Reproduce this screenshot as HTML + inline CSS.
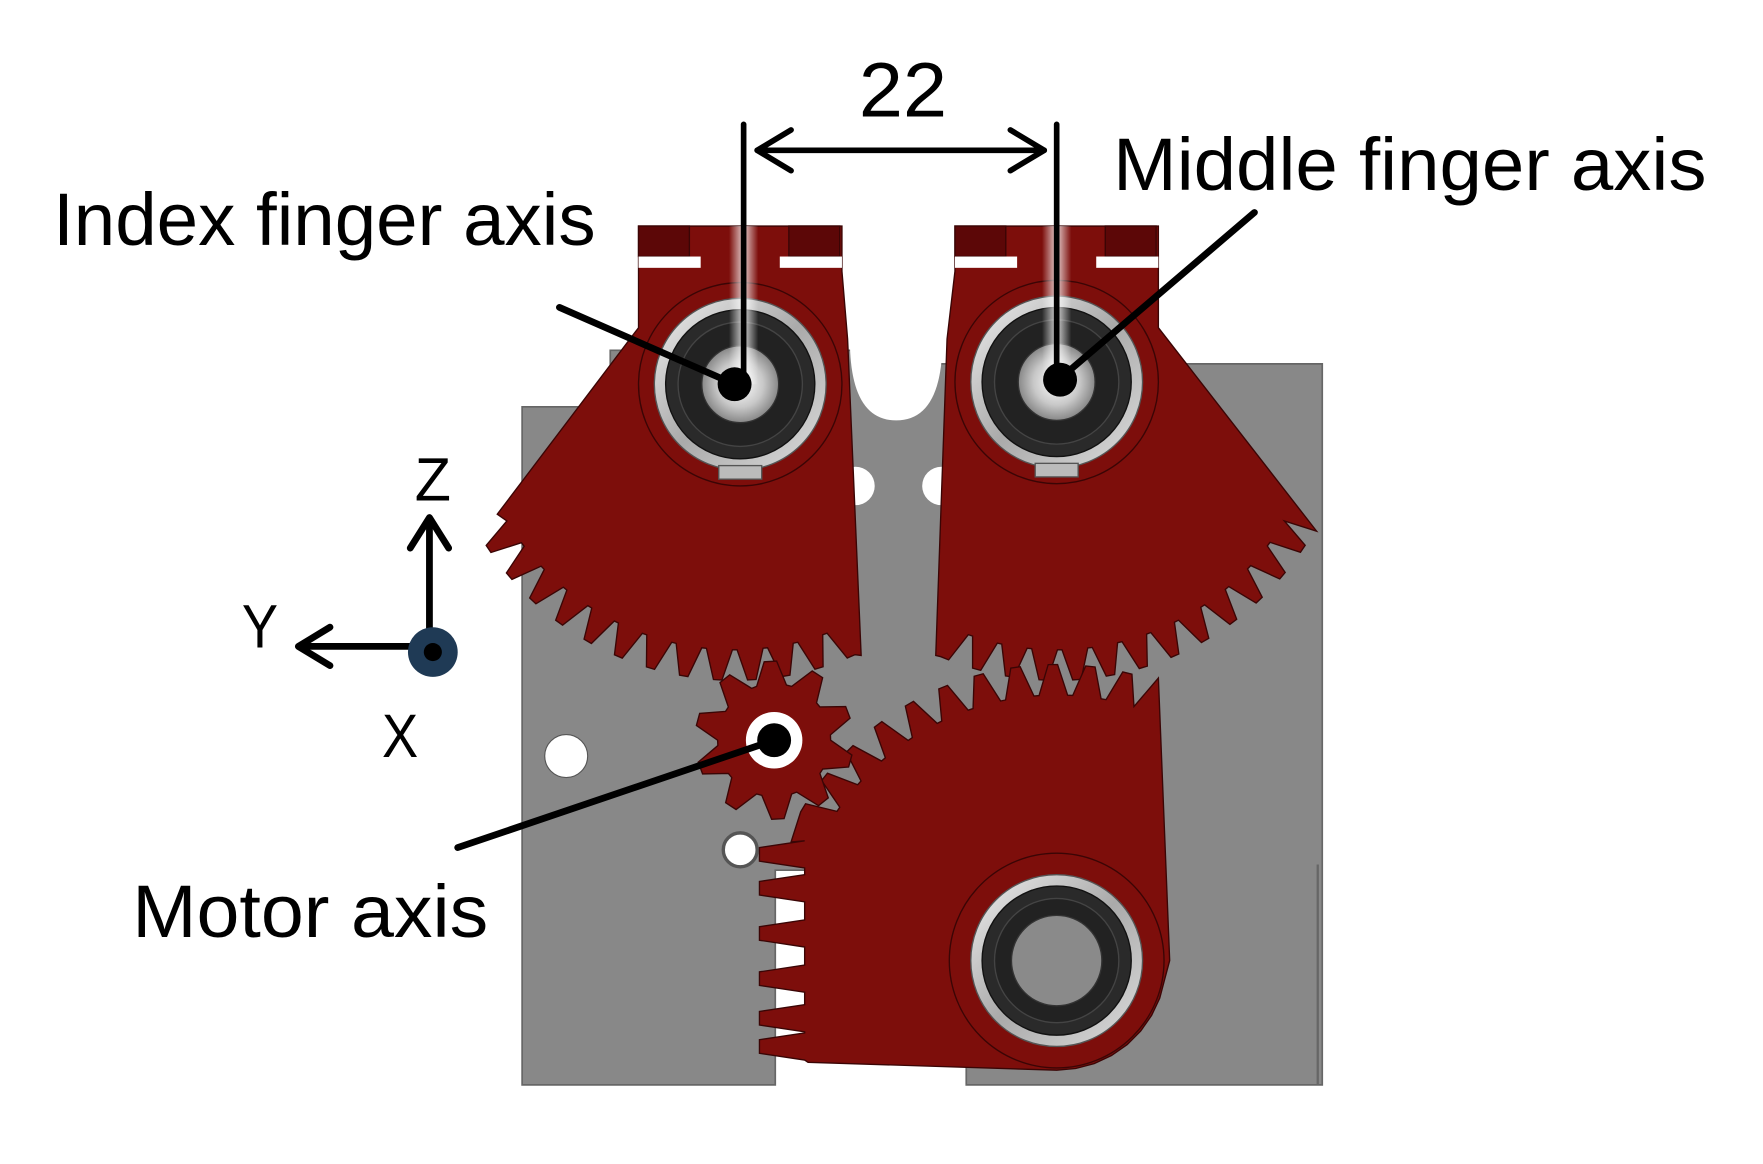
<!DOCTYPE html>
<html><head><meta charset="utf-8"><style>
html,body{margin:0;padding:0;background:#fff;}
svg{display:block;}
text{font-family:"Liberation Sans",sans-serif;fill:#000;}
</style></head><body>
<svg id="s" width="1763" height="1164" viewBox="0 0 1560 1030" preserveAspectRatio="none" xmlns="http://www.w3.org/2000/svg">
<defs>
<radialGradient id="hub" cx="50%" cy="50%" r="50%">
<stop offset="0" stop-color="#ffffff"/><stop offset="0.6" stop-color="#c8c8c8"/><stop offset="1" stop-color="#888"/>
</radialGradient>
<linearGradient id="ring" x1="0" y1="0" x2="1" y2="1">
<stop offset="0" stop-color="#eee"/><stop offset="0.5" stop-color="#aaa"/><stop offset="1" stop-color="#ddd"/>
</linearGradient>
<linearGradient id="glow" x1="0" x2="1">
<stop offset="0" stop-color="#fff" stop-opacity="0"/><stop offset="0.5" stop-color="#fff" stop-opacity="0.8"/><stop offset="1" stop-color="#fff" stop-opacity="0"/>
</linearGradient>
</defs>
<path d="M462 360 L540 360 L540 310 L760 310 L760 330 L830 330 L830 322 L1170 322 L1170 960 L855 960 L855 770 L686 770 L686 960 L462 960 Z" fill="#888" stroke="#666" stroke-width="1.5"/>
<path d="M752 300 Q752 372 793 372 Q834 372 834 300 Z" fill="#fff"/>
<rect x="752" y="200" width="82" height="102" fill="#fff"/>
<circle cx="501" cy="669" r="19" fill="#fff" stroke="#555"/>
<circle cx="655" cy="752" r="15" fill="#fff" stroke="#555" stroke-width="3"/>
<circle cx="757" cy="430" r="17" fill="#fff"/>
<circle cx="833" cy="430" r="17" fill="#fff"/>
<line x1="1166" y1="765" x2="1166" y2="960" stroke="#666" stroke-width="2"/>
<g id="red" fill="#7d0e0b" stroke="#3a0505" stroke-width="1.2"></g>
<g stroke="#000" stroke-width="6" fill="none" stroke-linecap="round" stroke-linejoin="round">
<line x1="380" y1="577" x2="380" y2="460"/><polyline points="363,485 380,458 397,485"/>
<line x1="380" y1="572" x2="266" y2="572"/><polyline points="292,555 264,572 292,589"/>
</g>
<circle cx="383" cy="577" r="22" fill="#1f3a55"/><circle cx="383" cy="577" r="8" fill="#000"/>
<text x="367" y="443" font-size="54" textLength="32" lengthAdjust="spacingAndGlyphs">Z</text>
<text x="214" y="573" font-size="54" textLength="32" lengthAdjust="spacingAndGlyphs">Y</text>
<text x="338" y="670" font-size="54" textLength="32" lengthAdjust="spacingAndGlyphs">X</text>
<g stroke="#000" stroke-width="5" fill="none" stroke-linecap="round" stroke-linejoin="round">
<line x1="658" y1="110" x2="658" y2="340"/>
<line x1="935" y1="110" x2="935" y2="335"/>
<line x1="670" y1="133" x2="924" y2="133"/>
<polyline points="700,115 670,133 700,151"/><polyline points="894,115 924,133 894,151"/>
<line x1="495" y1="272" x2="650" y2="340" stroke-width="6"/>
<line x1="1110" y1="188" x2="938" y2="335" stroke-width="6"/>
<line x1="405" y1="750" x2="685" y2="655" stroke-width="6"/>
</g>
<circle cx="650" cy="340" r="15" fill="#000"/>
<circle cx="938" cy="336" r="15" fill="#000"/>
<circle cx="685" cy="655" r="15" fill="#000"/>
<text x="760" y="103" font-size="68" textLength="78" lengthAdjust="spacingAndGlyphs">22</text>
<text x="985" y="168" font-size="66" textLength="525" lengthAdjust="spacingAndGlyphs">Middle finger axis</text>
<text x="47" y="217" font-size="66" textLength="480" lengthAdjust="spacingAndGlyphs">Index finger axis</text>
<text x="117" y="829" font-size="66" textLength="315" lengthAdjust="spacingAndGlyphs">Motor axis</text>
</svg>
<script>
const NS="http://www.w3.org/2000/svg";
const red=document.getElementById('red');
function el(t,a,p){const e=document.createElementNS(NS,t);for(const k in a)e.setAttribute(k,a[k]);(p||red).appendChild(e);return e;}
function teeth(cx,cy,r1,r2,a0,a1,n){let pts=[];const d=(a1-a0)/n;
for(let i=0;i<n;i++){const a=a0+i*d;const f=[[0,r1],[0.3,r2],[0.55,r2],[0.85,r1]];
for(const [t,r] of f){const ang=(a+t*d)*Math.PI/180;pts.push([cx+r*Math.cos(ang),cy+r*Math.sin(ang)]);}}
return pts;}
function poly(pts,p){el('path',{d:'M'+pts.map(q=>q[0].toFixed(1)+' '+q[1].toFixed(1)).join(' L')+' Z'},p);}
let L=[[565,200],[745,200],[745,240],[750,300],[762,580]];
L=L.concat(teeth(650,340,235,262,64,150,13).slice(1));
L.push([440,455],[565,290]);
poly(L);
let R=[[1025,200],[845,200],[845,240],[838,300],[828,580]];
R=R.concat(teeth(935,340,235,262,115,30,13).slice(1));
R.push([1165,470],[1025,290]);
poly(R);
let B=[[1025,600],[1035,850]];
for(let a=10;a<=90;a+=10){const r=a*Math.PI/180;B.push([935+97*Math.cos(r),850+97*Math.sin(r)]);}
B.push([715,940]);
const ys=[930,905,870,830,790,760];
for(let i=0;i<ys.length;i++){const y=ys[i];B.push([712,y+8],[672,y+2],[672,y-10],[712,y-16]);}
B.push([700,745]);
B=B.concat(teeth(935,850,235,262,-152,-72,11).slice(1));
poly(B);
let P=teeth(685,655,50,70,0,360,10);poly(P);
el('circle',{cx:685,cy:655,r:25,fill:'#fff',stroke:'none'});
for(const x0 of [565,845]){
el('rect',{x:x0,y:200,width:45,height:27,fill:'#5c0707'});
el('rect',{x:x0+133,y:200,width:45,height:27,fill:'#5c0707'});
el('rect',{x:x0,y:227,width:55,height:10,fill:'#fff',stroke:'none'});
el('rect',{x:x0+125,y:227,width:55,height:10,fill:'#fff',stroke:'none'});
}
function bearing(cx,cy,big){
el('circle',{cx,cy,r:big?95:90,fill:'none'});
el('circle',{cx,cy,r:76,fill:'url(#ring)',stroke:'#555'});
el('circle',{cx,cy,r:66,fill:'#2a2a2a',stroke:'#111'});
el('circle',{cx,cy,r:55,fill:'#222',stroke:'#444'});
el('circle',{cx,cy,r:big?40:34,fill:big?'#8a8a8a':'url(#hub)',stroke:'#333'});
}
bearing(655,340,false);bearing(935,338,false);bearing(935,850,true);
el('rect',{x:636,y:412,width:38,height:12,fill:'#bbb',stroke:'#555'});
el('rect',{x:916,y:410,width:38,height:12,fill:'#bbb',stroke:'#555'});
el('rect',{x:645,y:200,width:26,height:140,fill:'url(#glow)',stroke:'none'});
el('rect',{x:922,y:200,width:26,height:140,fill:'url(#glow)',stroke:'none'});
</script>
</body></html>
